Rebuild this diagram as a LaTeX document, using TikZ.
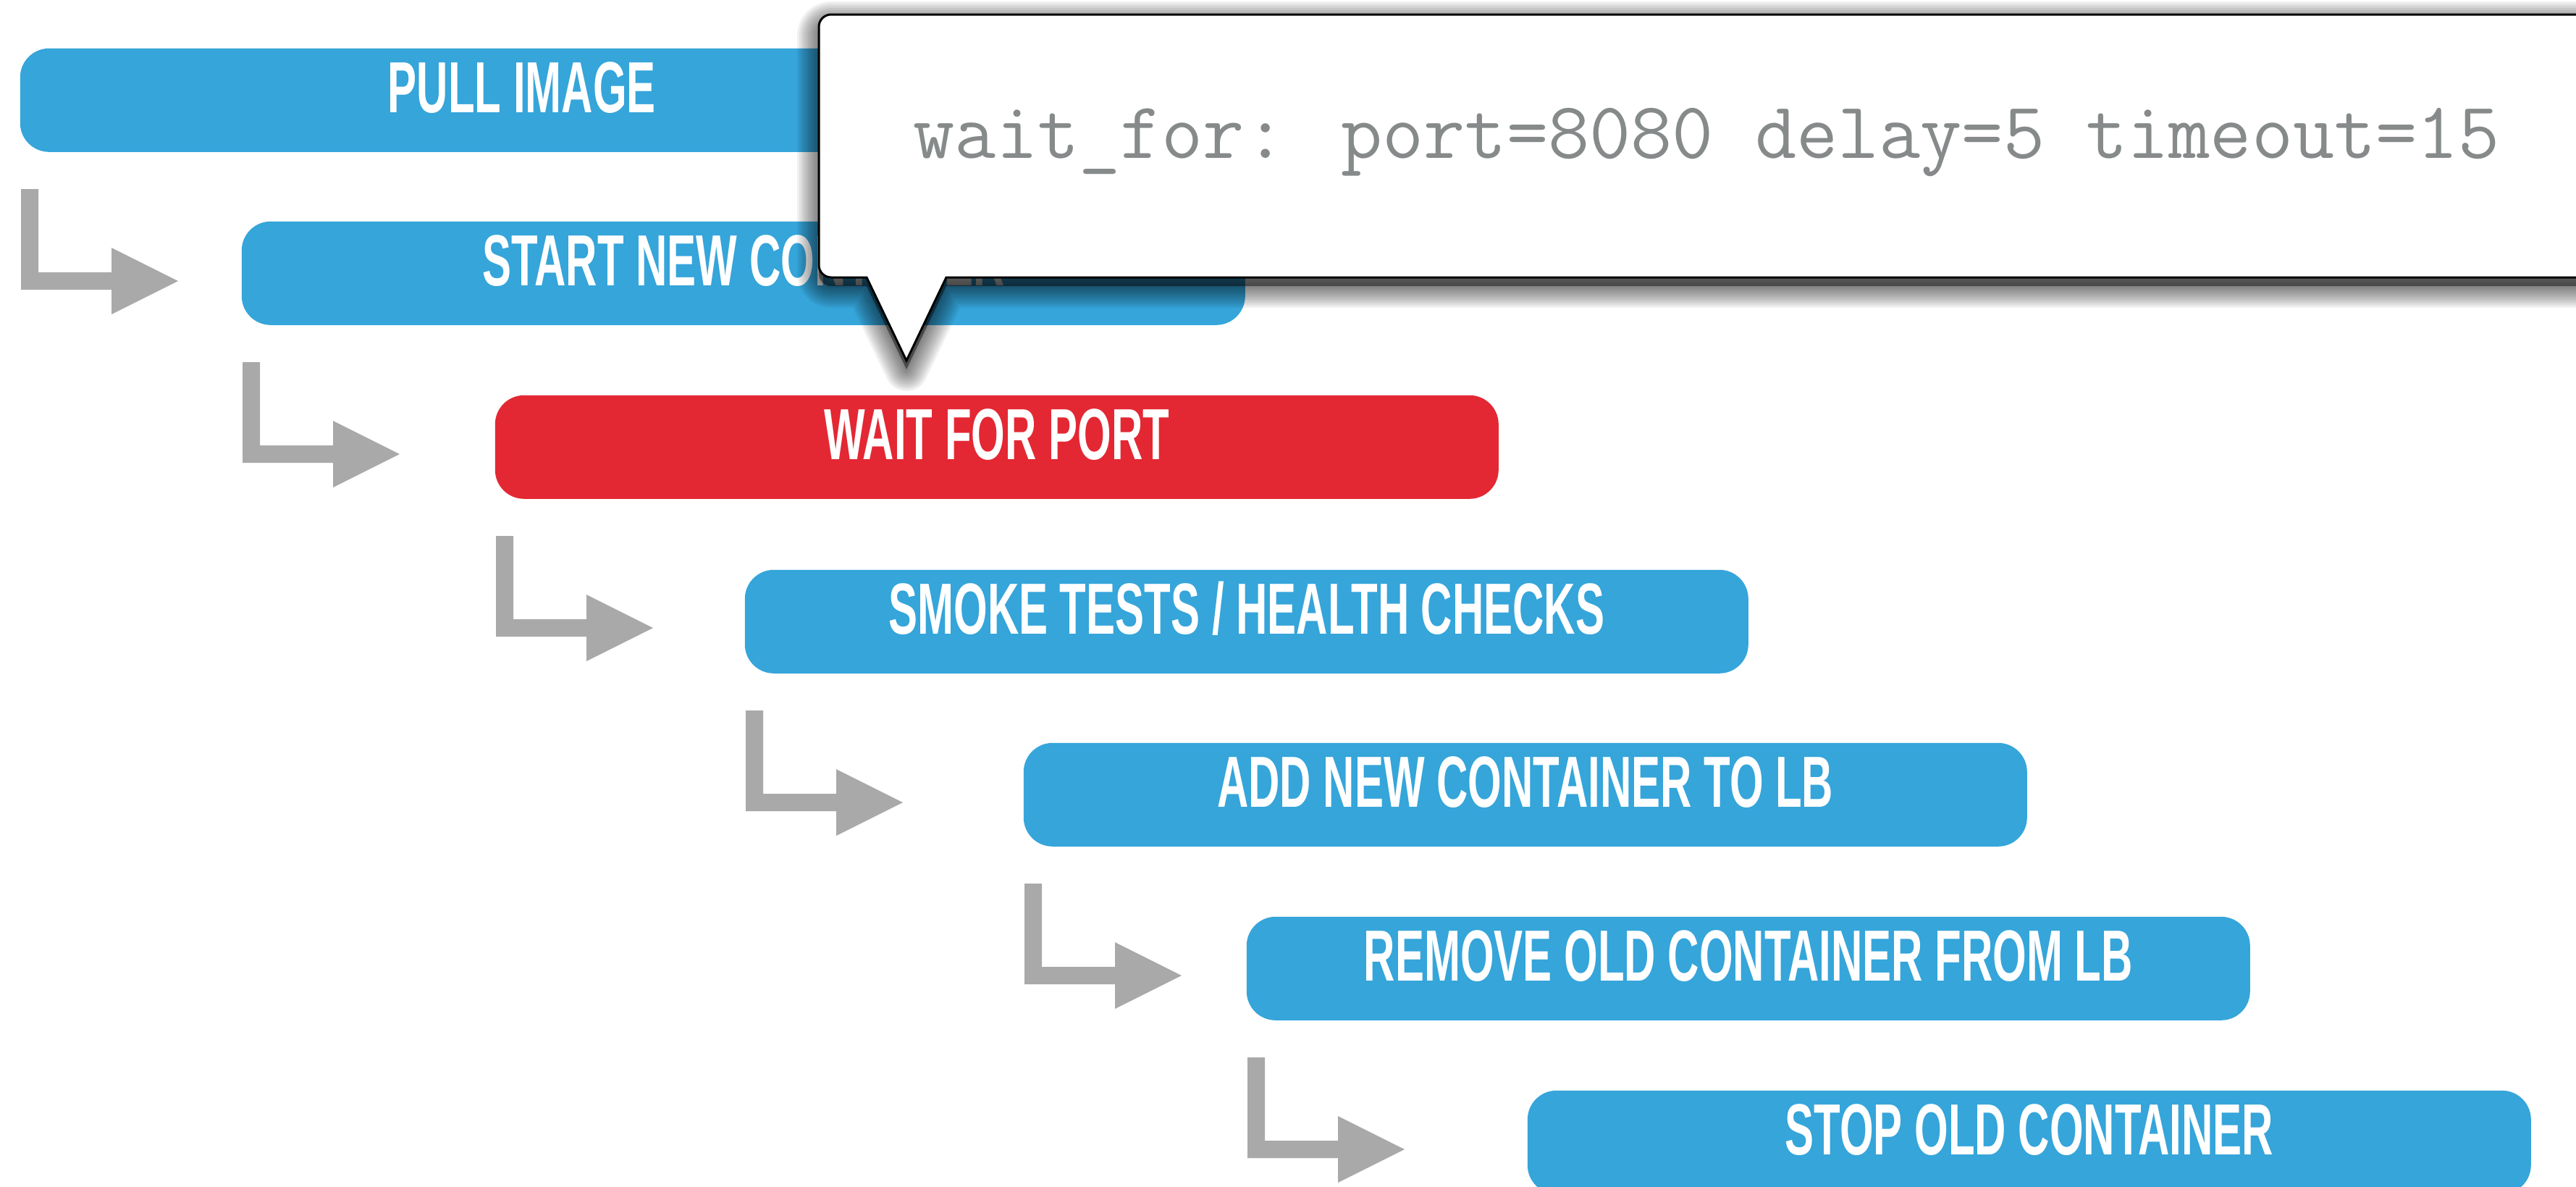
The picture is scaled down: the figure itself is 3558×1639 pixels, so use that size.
\documentclass[tikz,border=0pt]{standalone}
\usepackage{fontspec}
\newfontfamily\boxfont[FakeStretch=0.6]{Liberation Sans}
\definecolor{stepblue}{RGB}{53,165,218}
\definecolor{stepred}{RGB}{227,40,51}
\definecolor{arrowgray}{RGB}{168,169,168}
\definecolor{codegray}{RGB}{135,138,138}
\tikzset{
  stepbox/.style={rectangle, rounded corners=10pt, fill=stepblue, draw=none,
    minimum width=346.5pt, minimum height=35.75pt, inner sep=0pt,
    text height=18pt, text depth=9.5pt, text=white, anchor=north west,
    font=\boxfont\bfseries\fontsize{25}{25}\selectfont},
  redbox/.style={stepbox, fill=stepred},
  turnarrow/.style={fill=arrowgray, draw=none},
  codetext/.style={anchor=base west, inner sep=0pt, text=codegray,
    font=\ttfamily\fontsize{27.75}{27.75}\selectfont}
}
\def\calloutpath{(1252,498) -- (1307,383) -- (3640,383) -- (3640,20) -- (1148,20)
  arc[start angle=270, end angle=180, radius=17] -- (1131,366)
  arc[start angle=180, end angle=90, radius=17] -- (1197,383) -- cycle}
\begin{document}
\begin{tikzpicture}[x=0.25pt, y=-0.25pt]
\useasboundingbox (0,0) rectangle (3558,1639);
\fill[white] (0,0) rectangle (3558,1639);
\clip (0,0) rectangle (3558,1639);

% steps
\node[stepbox] (b1) at (27,66) {PULL IMAGE};
\node[stepbox] (b2) at (333,305) {START NEW CONTAINER};
\node[redbox]  (b3) at (683,545) {WAIT FOR PORT};
\node[stepbox] (b4) at (1028,786) {SMOKE TESTS / HEALTH CHECKS};
\node[stepbox] (b5) at (1413,1025) {ADD NEW CONTAINER TO LB};
\node[stepbox] (b6) at (1721,1265) {REMOVE OLD CONTAINER FROM LB};
\node[stepbox] (b7) at (2109,1505) {STOP OLD CONTAINER};

% turn arrows, placed from each step's corner
\foreach \n in {b1,b2,b3,b4,b5,b6}{
  \fill[turnarrow, shift={(\n.north west)}]
    (2,195) -- (26,195) -- (26,310) -- (127,310) -- (127,276) -- (219,322)
    -- (127,368) -- (127,334) -- (2,334) -- cycle;
}

% callout shadow
\begin{scope}[yshift=-3pt]
  \fill[black, opacity=0.45] \calloutpath;
  \foreach \w in {60,54,48,42,36,30,24,18,12,6}{
    \draw[black, opacity=0.06, line width=\w*0.25pt, line join=round] \calloutpath;
  }
\end{scope}
% callout
\filldraw[fill=white, draw=black, line width=0.75pt, line join=miter] \calloutpath;
\node[codetext] (code) at (1261,218) {wait\_for: port=8080 delay=5 timeout=15};
\end{tikzpicture}
\end{document}
